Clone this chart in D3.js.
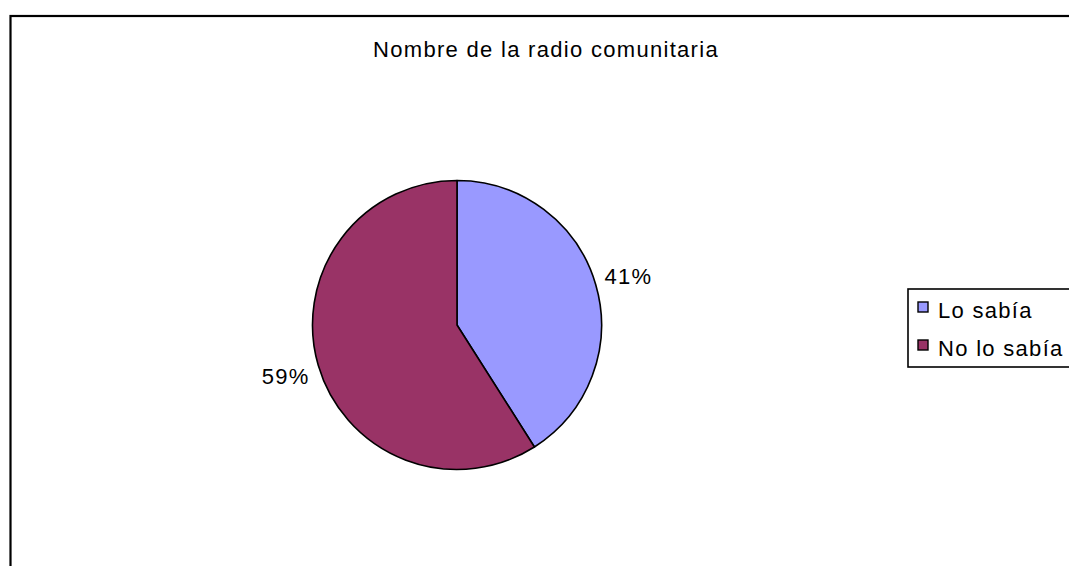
<!DOCTYPE html>
<html>
<head>
<meta charset="utf-8">
<script src="https://cdn.jsdelivr.net/npm/d3@7"></script>
<style>
  html, body { margin: 0; padding: 0; background: #fff; }
  svg { display: block; }
  text { font-family: Arial, "Liberation Sans", sans-serif; fill: #000; }
</style>
</head>
<body>
<svg id="chart" width="1069" height="566"></svg>
<script>
// Survey answers: did respondents know the community radio's name?
const title = "Nombre de la radio comunitaria";
const categories = ["Lo sabía", "No lo sabía"];
const values = [41, 59];
const colors = ["#9999FF", "#993366"];

const svg = d3.select("#chart");
const W = 1069, H = 566;
const FONT = 22, SPACING = "1.3px";

// chart frame (runs off the right and bottom edges)
svg.append("rect")
  .attr("x", 10.5).attr("y", 16)
  .attr("width", W + 20).attr("height", H + 20)
  .attr("fill", "#fff")
  .attr("stroke", "#000")
  .attr("stroke-width", 2.2);

// title
svg.append("text")
  .attr("x", 546).attr("y", 57)
  .attr("text-anchor", "middle")
  .attr("font-size", FONT)
  .style("letter-spacing", SPACING)
  .text(title);

// pie
const cx = 457, cy = 325, r = 144.5;
const data = categories.map((c, i) => ({ name: c, value: values[i], color: colors[i] }));
const pie = d3.pie().value(d => d.value).sort(null);
const arc = d3.arc().innerRadius(0).outerRadius(r);
const arcs = pie(data);

const g = svg.append("g").attr("transform", `translate(${cx},${cy})`);
g.selectAll("path")
  .data(arcs)
  .join("path")
  .attr("d", arc)
  .attr("fill", d => d.data.color)
  .attr("stroke", "#000")
  .attr("stroke-width", 1.6)
  .attr("stroke-linejoin", "round");

// percentage labels outside the slices
const total = d3.sum(values);
const labelArc = d3.arc().innerRadius(r + 34).outerRadius(r + 34);
const pct = arcs.map(a => ({
  text: Math.round(a.data.value / total * 100) + "%",
  pos: labelArc.centroid(a)
}));
g.selectAll("text.pct")
  .data(pct)
  .join("text")
  .attr("class", "pct")
  .attr("x", d => d.pos[0])
  .attr("y", d => d.pos[1] + 9)
  .attr("text-anchor", "middle")
  .attr("font-size", FONT)
  .style("letter-spacing", SPACING)
  .text(d => d.text);

// legend
const lg = svg.append("g").attr("transform", "translate(908,289)");
lg.append("rect")
  .attr("x", 0).attr("y", 0)
  .attr("width", 200).attr("height", 78)
  .attr("fill", "#fff")
  .attr("stroke", "#000")
  .attr("stroke-width", 1.6);

const items = lg.selectAll("g.item")
  .data(data)
  .join("g")
  .attr("class", "item")
  .attr("transform", (d, i) => `translate(0,${13 + i * 38})`);
items.append("rect")
  .attr("x", 10).attr("y", 0)
  .attr("width", 10).attr("height", 10)
  .attr("fill", d => d.color)
  .attr("stroke", "#000")
  .attr("stroke-width", 1.4);
items.append("text")
  .attr("x", 30).attr("y", 16)
  .attr("font-size", FONT)
  .style("letter-spacing", SPACING)
  .text(d => d.name);
</script>
</body>
</html>
